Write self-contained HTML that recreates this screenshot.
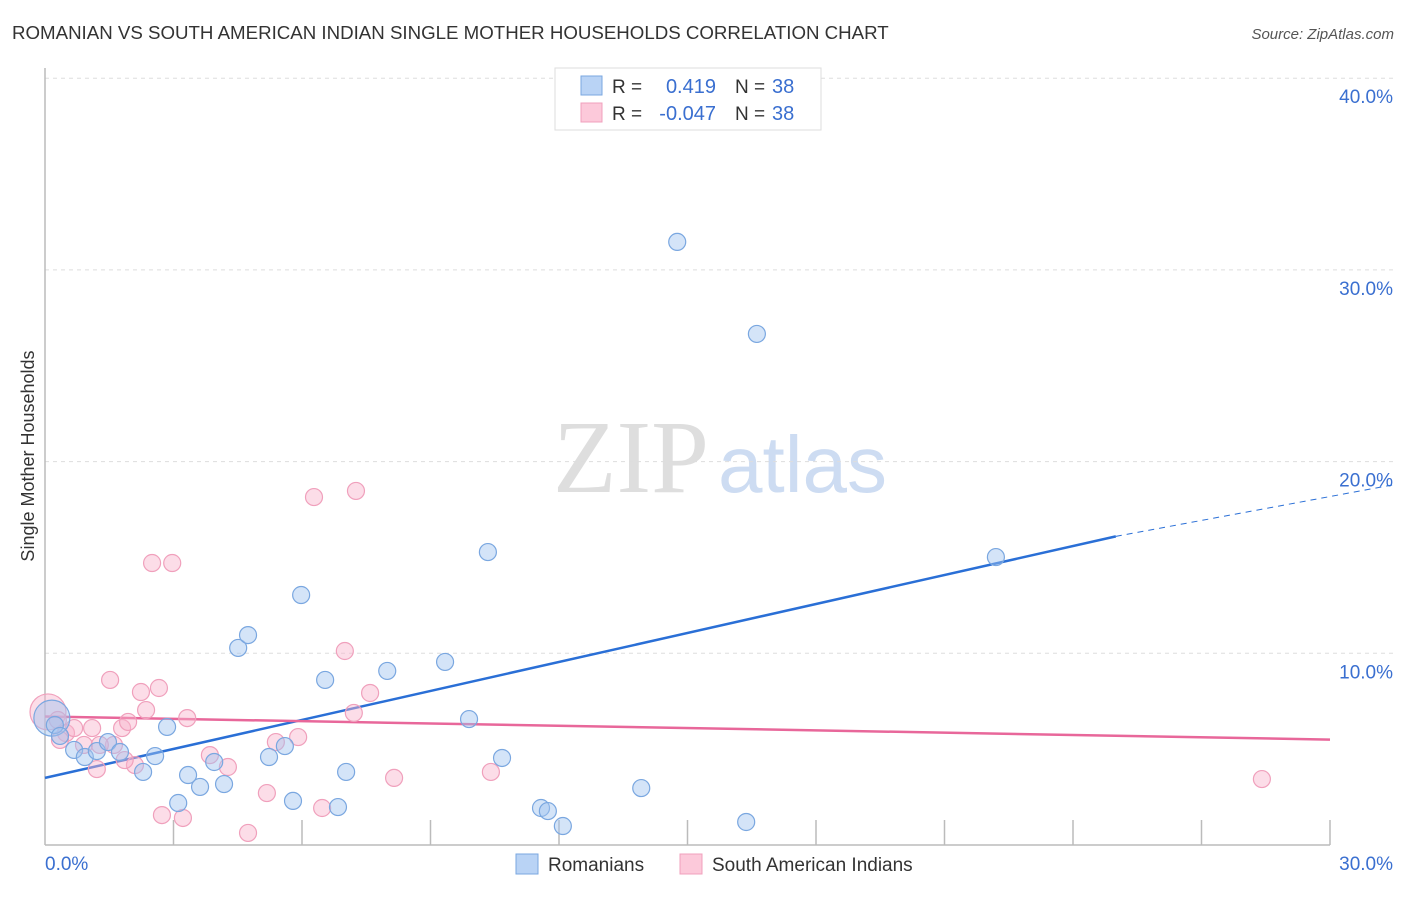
<!DOCTYPE html>
<html><head><meta charset="utf-8"><style>
body{margin:0;background:#fff;font-family:"Liberation Sans",sans-serif;}
svg text{font-family:"Liberation Sans",sans-serif;}
</style></head><body>
<svg id="chart" width="1406" height="892" xmlns="http://www.w3.org/2000/svg">
<text x="12" y="39" font-size="18.7" fill="#333">ROMANIAN VS SOUTH AMERICAN INDIAN SINGLE MOTHER HOUSEHOLDS CORRELATION CHART</text>
<text x="1394" y="39" font-size="15" fill="#555" text-anchor="end" font-style="italic">Source: ZipAtlas.com</text>
<text x="34" y="456" font-size="18" fill="#333" text-anchor="middle" transform="rotate(-90 34 456)">Single Mother Households</text>
<text x="553" y="492" font-size="104" fill="#dedede" style="font-family:'Liberation Serif',serif">ZIP</text>
<text x="718" y="492" font-size="80" fill="#cddcf2">atlas</text>
<g id="grid"></g><g id="axes"></g><g id="lines"></g><g id="pts"></g>
<g>
<rect x="555" y="68" width="266" height="62" fill="#fff" stroke="#ddd"/>
<rect x="581" y="76" width="21" height="19" fill="#b9d3f5" stroke="#7aa7e0"/>
<rect x="581" y="103" width="21" height="19" fill="#fcc9da" stroke="#f0a0bc"/>
<text x="612" y="93" font-size="19" fill="#333">R =</text>
<text x="716" y="93" font-size="20" fill="#3a6fd0" text-anchor="end">0.419</text>
<text x="735" y="93" font-size="19" fill="#333">N =</text>
<text x="772" y="93" font-size="20" fill="#3a6fd0">38</text>
<text x="612" y="120" font-size="19" fill="#333">R =</text>
<text x="716" y="120" font-size="20" fill="#3a6fd0" text-anchor="end">-0.047</text>
<text x="735" y="120" font-size="19" fill="#333">N =</text>
<text x="772" y="120" font-size="20" fill="#3a6fd0">38</text>
</g>
<g>
<rect x="516" y="854" width="22" height="20" fill="#b9d3f5" stroke="#7aa7e0"/>
<text x="548" y="871" font-size="19" fill="#333">Romanians</text>
<rect x="680" y="854" width="22" height="20" fill="#fcc9da" stroke="#f0a0bc"/>
<text x="712" y="871" font-size="19" fill="#333">South American Indians</text>
</g>
</svg>
<script>
const yTicks=[10,20,30,40];
const yTickLabels=["10.0%","20.0%","30.0%","40.0%"];
const xTickLabels=["0.0%","30.0%"];
const blueX=[0.16,0.23,0.35,0.68,0.93,1.21,1.47,1.75,2.29,2.57,2.85,3.11,3.34,3.62,3.95,4.18,4.51,4.74,5.23,5.60,5.79,5.98,6.54,6.84,7.03,7.99,9.34,9.90,10.34,10.67,11.58,11.74,12.09,13.92,14.76,16.37,16.62,22.20];
const blueY=[6.62,6.26,5.69,4.96,4.59,4.90,5.37,4.85,3.81,4.64,6.16,2.19,3.65,3.03,4.33,3.18,10.28,10.95,4.59,5.16,2.30,13.04,8.61,1.98,3.81,9.08,9.55,6.57,15.28,4.54,1.93,1.77,0.99,2.97,31.46,1.20,26.66,15.02];
const pinkX=[0.07,0.30,0.49,0.68,0.91,1.10,1.21,1.52,1.61,1.80,1.94,2.10,2.24,2.36,2.50,2.66,2.73,2.97,3.22,3.32,3.85,4.27,4.74,5.18,5.39,5.91,6.28,6.47,7.00,7.21,7.26,7.59,8.15,10.41,28.41,0.35,1.28,1.86];
const pinkY=[6.94,6.52,5.84,6.10,5.22,6.10,3.96,8.61,5.22,6.10,6.42,4.17,7.98,7.04,14.71,8.19,1.56,14.71,1.41,6.62,4.69,4.07,0.63,2.71,5.37,5.63,18.15,1.93,10.12,6.89,18.47,7.93,3.50,3.81,3.44,5.48,5.22,4.43];
const blueTrend=[3.5,16.1,18.8]; // y at x=0, x=25, x=31.5
const pinkTrend=[6.7,5.5]; // y at x=0, x=30
const NS="http://www.w3.org/2000/svg";
const X=v=>45+v*1285/30, Y=v=>845-v*19.17;
function mk(tag,at,parent){const e=document.createElementNS(NS,tag);for(const k in at)e.setAttribute(k,at[k]);document.getElementById(parent).appendChild(e);return e;}
yTicks.forEach((t,i)=>{
 const g=mk('line',{x1:45,x2:1393,y1:Y(t),y2:Y(t),stroke:'#ddd','stroke-dasharray':'4 4'},'grid');
 
 
 const l=mk('text',{x:1393,y:Y(t)+25,'font-size':19,fill:'#3a6fd0','text-anchor':'end'},'grid');
 l.textContent=yTickLabels[i];
 
 
});
const ax=mk('line',{x1:45,x2:45,y1:68,y2:845,stroke:'#bbb','stroke-width':1.5},'axes');


const bx=mk('line',{x1:45,x2:1330,y1:845,y2:845,stroke:'#bbb','stroke-width':1.5},'axes');


for(let i=1;i<=10;i++){const t=mk('line',{x1:X(i*3),x2:X(i*3),y1:820,y2:845,stroke:'#bbb','stroke-width':1.5},'axes');
 
 }
[[0,'start',45],[30,'end',1393]].forEach((d,i)=>{const t=mk('text',{x:d[2],y:870,'font-size':19,fill:'#3a6fd0','text-anchor':d[1]},'axes');t.textContent=xTickLabels[i];
 
 });
function dot(x,y,i,c,s,name){const r=i===0?18:8.5;const e=mk('circle',{cx:X(x),cy:Y(y),r:r,fill:c,stroke:s,'stroke-width':1.2},'pts');
 
 }
pinkX.forEach((x,i)=>dot(x,pinkY[i],i,'rgba(248,180,204,0.45)','#f0a0bc','point-south-american-indian'));
blueX.forEach((x,i)=>dot(x,blueY[i],i,'rgba(160,196,240,0.45)','#7aa7e0','point-romanian'));
const b1=mk('line',{x1:X(0),y1:Y(blueTrend[0]),x2:X(25),y2:Y(blueTrend[1]),stroke:'#2a6fd6','stroke-width':2.5},'lines');


const b2=mk('line',{x1:X(25),y1:Y(blueTrend[1]),x2:X(31.5),y2:Y(blueTrend[2]),stroke:'#2a6fd6','stroke-width':1,'stroke-dasharray':'6 5'},'lines');


const p1=mk('line',{x1:X(0),y1:Y(pinkTrend[0]),x2:X(30),y2:Y(pinkTrend[1]),stroke:'#e8679a','stroke-width':2.5},'lines');


</script>
</body></html>
